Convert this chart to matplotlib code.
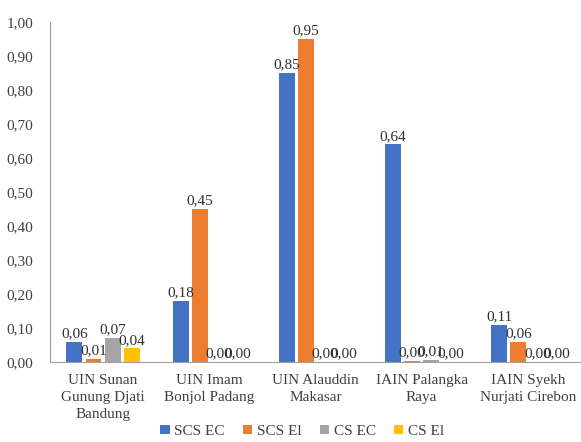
import matplotlib.pyplot as plt
import numpy as np

plt.rcParams['font.family'] = ['Liberation Serif', 'DejaVu Serif']

categories = ['UIN Sunan\nGunung Djati\nBandung', 'UIN Imam\nBonjol Padang',
              'UIN Alauddin\nMakasar', 'IAIN Palangka\nRaya', 'IAIN Syekh\nNurjati Cirebon']
series = ['SCS EC', 'SCS El', 'CS EC', 'CS El']
scs_ec = [0.06, 0.18, 0.85, 0.64, 0.11]
scs_el = [0.01, 0.45, 0.95, 0.003, 0.06]
cs_ec = [0.07, 0.0, 0.0, 0.006, 0.0]
cs_el = [0.04, 0.0, 0.0, 0.0, 0.0]
colors = ['#4472C4', '#ED7D31', '#A5A5A5', '#FFC000']

fig = plt.figure(figsize=(5.81, 4.42), dpi=100)
ax = fig.add_axes([0.086, 0.181, 0.914, 0.769])

x = np.arange(len(categories))
step = 0.18
width = 0.15
for i, (name, vals) in enumerate(zip(series, [scs_ec, scs_el, cs_ec, cs_el])):
    pos = x + (i - 1.5) * step
    ax.bar(pos, vals, width=width, color=colors[i], label=name)
    for px, v in zip(pos, vals):
        ax.text(px, v + 0.005, f'{v:.2f}'.replace('.', ','), ha='center', va='bottom',
                fontsize=11, color='#303030')

ax.set_xlim(-0.5, len(categories) - 0.5)
ax.set_ylim(0, 1.0)
ax.set_yticks(np.arange(0, 1.01, 0.1))
ax.set_yticklabels([f'{t:.2f}'.replace('.', ',') for t in np.arange(0, 1.01, 0.1)])
ax.set_xticks(x)
ax.set_xticklabels(categories, linespacing=1.4)
ax.tick_params(axis='both', labelsize=11, colors='#404040', length=0)
ax.tick_params(axis='y', pad=12)
ax.tick_params(axis='x', pad=9)
for s in ['top', 'right']:
    ax.spines[s].set_visible(False)
for s in ['left', 'bottom']:
    ax.spines[s].set_color('#A0A0A0')

fig.legend(loc='lower center', ncol=4, frameon=False, fontsize=11,
           bbox_to_anchor=(0.52, -0.022), handlelength=0.6, handleheight=0.6,
           handletextpad=0.3, columnspacing=1.2, labelcolor='#404040')

plt.savefig('out.png', dpi=100)
